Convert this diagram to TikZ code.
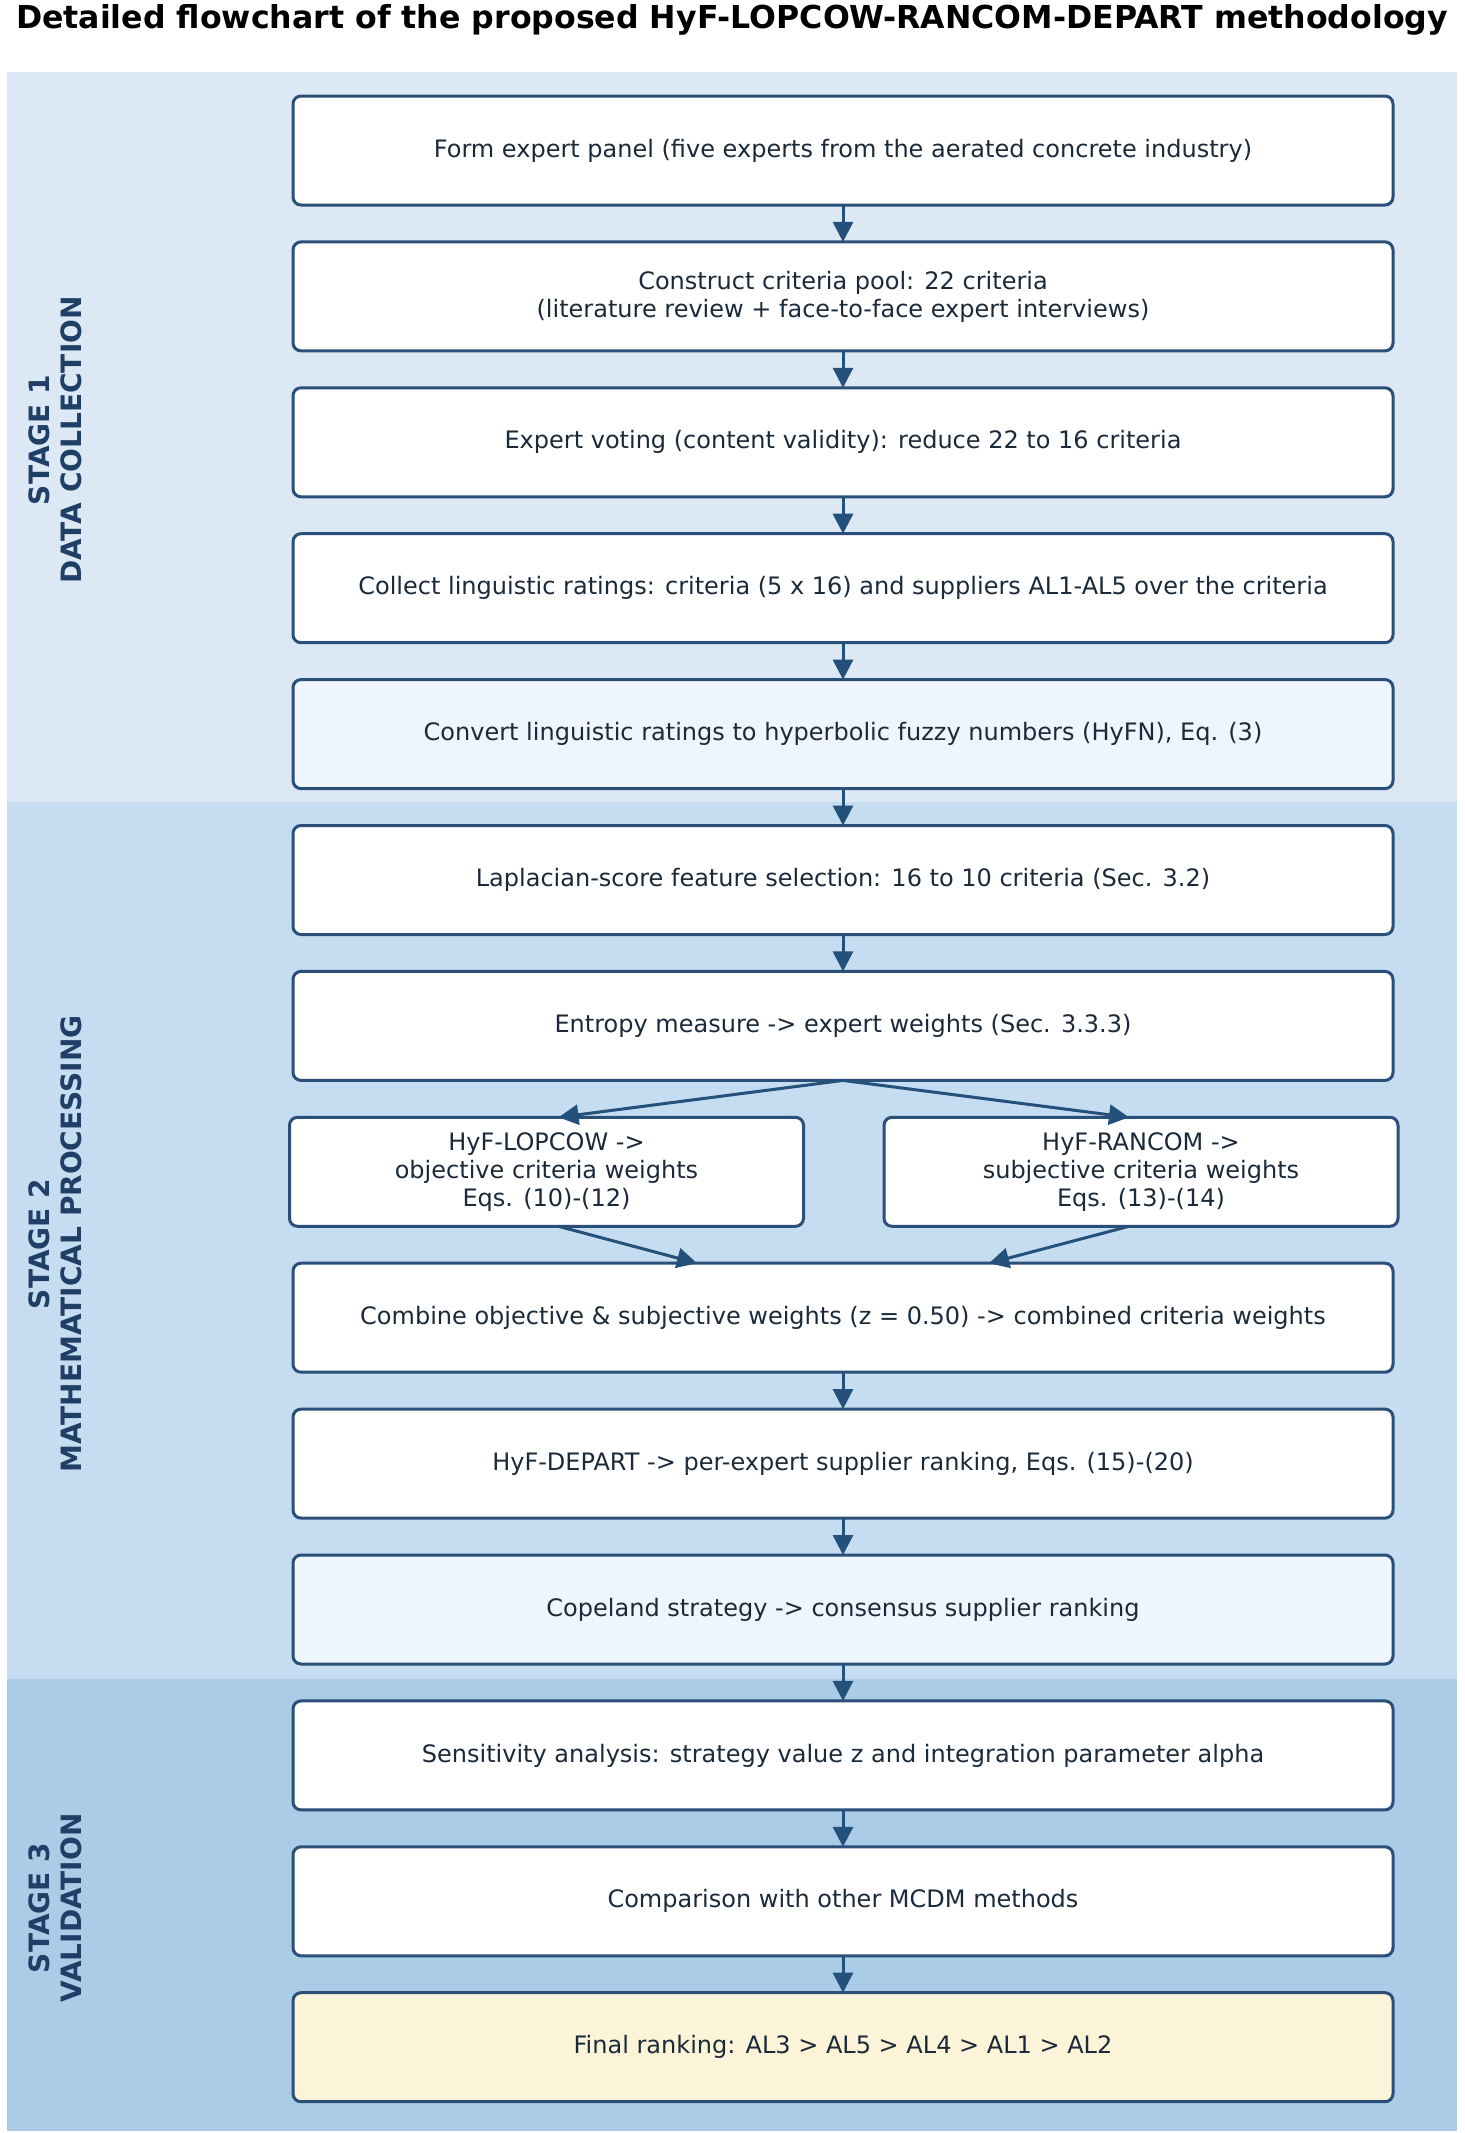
\documentclass[tikz,border=0pt]{standalone}
\usepackage{fontspec}
\setmainfont{DejaVu Sans}
\usepackage{xcolor}
\usetikzlibrary{positioning, arrows.meta}

\definecolor{stageA}{HTML}{DCE9F5}
\definecolor{stageB}{HTML}{C6DCF0}
\definecolor{stageC}{HTML}{AACCE7}
\definecolor{edge}{HTML}{2A4F78}
\definecolor{flow}{HTML}{24507C}
\definecolor{ink}{HTML}{1B2A3A}
\definecolor{soft}{HTML}{EEF5FC}
\definecolor{result}{HTML}{FCF4D8}
\definecolor{stagetxt}{HTML}{1F3F66}

\begin{document}
\begin{tikzpicture}[node distance=18.45pt and 0pt, >={Triangle[length=10pt, width=10pt]},
      comp/.style={draw=edge, line width=1.5pt, rounded corners=4pt, fill=white, align=center, outer sep=0pt,
        minimum height=54.5pt, minimum width=550pt, text=ink, font=\fontsize{12pt}{14pt}\selectfont},
      half/.style={comp, minimum width=257pt},
      flowline/.style={->, draw=flow, line width=1.5pt},
      band/.style={rotate=90, align=center, text=stagetxt, font=\fontsize{14pt}{16pt}\selectfont\bfseries}]

    \useasboundingbox (0,0) rectangle (732pt,-1066.5pt);
    \fill[stageA] (3.25pt,-36pt) rectangle (728.5pt,-401pt);
    \fill[stageB] (3.25pt,-401pt) rectangle (728.5pt,-839.5pt);
    \fill[stageC] (3.25pt,-839.5pt) rectangle (728.5pt,-1065.5pt);

    \node[font=\fontsize{15.8pt}{18pt}\selectfont\bfseries] (title) at (366pt,-10pt) {Detailed flowchart of the proposed HyF-LOPCOW-RANCOM-DEPART methodology};

    \node[band] (stage1) at (27.5pt,-220pt) {STAGE 1\\DATA COLLECTION};
    \node[band] (stage2) at (27.5pt,-622pt) {STAGE 2\\MATHEMATICAL PROCESSING};
    \node[band] (stage3) at (27.5pt,-954pt) {STAGE 3\\VALIDATION};

    \node[comp] (panel) at (421.5pt,-75.25pt) {Form expert panel (five experts from the aerated concrete industry)};
    \node[comp, below=of panel] (pool) {Construct criteria pool: 22 criteria\\(literature review + face-to-face expert interviews)};
    \node[comp, below=of pool] (voting) {Expert voting (content validity): reduce 22 to 16 criteria};
    \node[comp, below=of voting] (ratings) {Collect linguistic ratings: criteria (5 x 16) and suppliers AL1-AL5 over the criteria};
    \node[comp, fill=soft, below=of ratings] (hyfn) {Convert linguistic ratings to hyperbolic fuzzy numbers (HyFN), Eq. (3)};
    \node[comp, below=of hyfn] (laplace) {Laplacian-score feature selection: 16 to 10 criteria (Sec. 3.2)};
    \node[comp, below=of laplace] (entropy) {Entropy measure -> expert weights (Sec. 3.3.3)};
    \node[half, below=of entropy, xshift=-148.25pt] (lopcow) {HyF-LOPCOW ->\\objective criteria weights\\Eqs. (10)-(12)};
    \node[half, below=of entropy, xshift=149pt] (rancom) {HyF-RANCOM ->\\subjective criteria weights\\Eqs. (13)-(14)};
    \node[comp, below=of lopcow, xshift=148.25pt] (combine) {Combine objective \& subjective weights (z = 0.50) -> combined criteria weights};
    \node[comp, below=of combine] (depart) {HyF-DEPART -> per-expert supplier ranking, Eqs. (15)-(20)};
    \node[comp, fill=soft, below=of depart] (copeland) {Copeland strategy -> consensus supplier ranking};
    \node[comp, below=of copeland] (sens) {Sensitivity analysis: strategy value z and integration parameter alpha};
    \node[comp, below=of sens] (compare) {Comparison with other MCDM methods};
    \node[comp, fill=result, below=of compare] (final) {Final ranking: AL3 > AL5 > AL4 > AL1 > AL2};

    \draw[flowline] (panel) -- (pool);
    \draw[flowline] (pool) -- (voting);
    \draw[flowline] (voting) -- (ratings);
    \draw[flowline] (ratings) -- (hyfn);
    \draw[flowline] (hyfn) -- (laplace);
    \draw[flowline] (laplace) -- (entropy);
    \draw[flowline] (entropy.south) -- ([xshift=6pt]lopcow.north);
    \draw[flowline] (entropy.south) -- ([xshift=-6pt]rancom.north);
    \draw[flowline] ([xshift=6pt]lopcow.south) -- ([xshift=-73pt]combine.north);
    \draw[flowline] ([xshift=-6pt]rancom.south) -- ([xshift=73pt]combine.north);
    \draw[flowline] (combine) -- (depart);
    \draw[flowline] (depart) -- (copeland);
    \draw[flowline] (copeland) -- (sens);
    \draw[flowline] (sens) -- (compare);
    \draw[flowline] (compare) -- (final);
  \end{tikzpicture}
\end{document}
